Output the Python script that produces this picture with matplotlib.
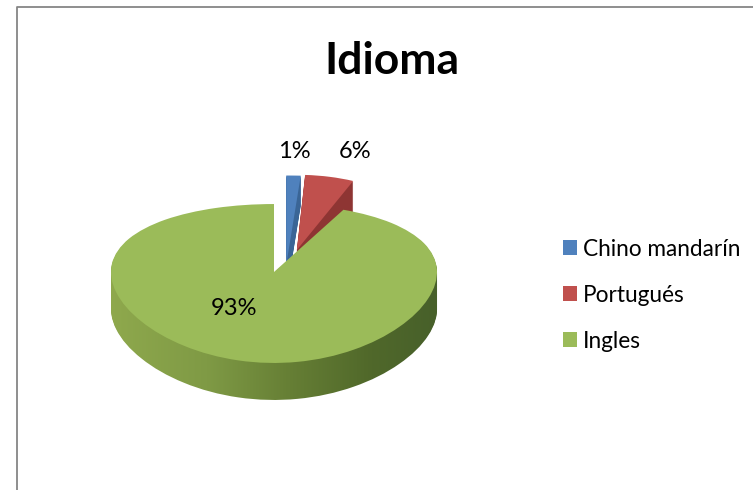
import matplotlib
matplotlib.use('Agg')
import matplotlib.pyplot as plt
import numpy as np
from matplotlib.colors import LinearSegmentedColormap
from matplotlib.lines import Line2D
from matplotlib.transforms import Affine2D, IdentityTransform

names = ['Chino mandarín', 'Portugués', 'Ingles']
values = [1, 6, 93]
top_colors = ['#4f81bd', '#c0504d', '#9bbb59']
side_colors = ['#3a6596', '#8e3533', 'none']

W, H = 753, 490
plt.rcParams['font.family'] = ['Lato', 'DejaVu Sans']

# pie geometry in pixels
apex_x, apex_y = 274, 272
rx = 163
ry = 77.8
b = 0.1447
depth_green = 37
depth_red = 30

# y perspective, the far half of the pie is shorter than the near half
def forward(y):
    y = np.asarray(y, dtype=float)
    return y / (1 + b * y)

def inverse(v):
    v = np.asarray(v, dtype=float)
    return v / (1 - b * v)

# slice offsets: center x, center y, radius, x squash
placing = [(0.075, 0.0912, 1.42, 1.0),
           (0.14, 0.295, 1.23, 0.66),
           (0.0, 0.0, 1.0, 1.0)]

fig = plt.figure(figsize=(W / 100, H / 100), dpi=100, facecolor='white')

bg = fig.add_axes([0, 0, 1, 1], zorder=1)
bg.set_xlim(0, W)
bg.set_ylim(H, 0)
bg.axis('off')

ax = fig.add_axes([0, 0, 1, 1], zorder=2)
ax.patch.set_alpha(0)


def place(wedges, down):
    for w, (cx, cy, r, sq) in zip(wedges, placing):
        w.set_center((cx / sq, cy))
        w.set_radius(r)
        w.set_transform(Affine2D().scale(sq, 1) + ax.transData
                        + Affine2D().translate(0, -down))


for d in range(depth_red, 0, -1):
    side, _ = ax.pie(values, colors=side_colors, startangle=90, counterclock=False)
    place(side, d)

top, _, pct = ax.pie(values, colors=top_colors, startangle=90, counterclock=False,
                     autopct='%.0f%%', textprops={'fontsize': 17, 'color': 'black'})
place(top, 0)

ax.set_aspect('auto')
ax.set_yscale('function', functions=(forward, inverse))
ax.set_xlim(-apex_x / rx, (W - apex_x) / rx)
ax.set_ylim(inverse(-(H - apex_y) / ry), inverse(apex_y / ry))
ax.axis('off')

# green side wall, shaded left to right
shade = LinearSegmentedColormap.from_list('side', [(0.0, '#8fa94d'), (0.3, '#7f9a45'),
                                                   (0.55, '#667f35'), (0.8, '#50682a'),
                                                   (1.0, '#47602a')])
gradient = np.linspace(0, 1, 256).reshape(1, -1)
green = top[2]
for d in range(1, depth_green + 1):
    im = bg.imshow(gradient, cmap=shade, extent=(108, 438, H, 0), aspect='auto')
    im.set_clip_path(green.get_path(), green.get_transform() + Affine2D().translate(0, -d))
bg.set_xlim(0, W)
bg.set_ylim(H, 0)

for t, (x, y) in zip(pct, [(294, 151), (355, 151), (234, 308)]):
    t.set_transform(IdentityTransform())
    t.set_position((x, H - y))
    t.set_ha('center')
    t.set_va('center')

fig.text(392 / W, 1 - 61 / H, 'Idioma', fontsize=32, fontweight='bold', ha='center', va='center')

fig.legend(top, names, loc='upper left', bbox_to_anchor=(556 / W, 1 - 232 / H),
           frameon=False, fontsize=16.3, handlelength=0.62, handleheight=0.62,
           handletextpad=0.27, labelspacing=1.1, borderpad=0.3, borderaxespad=0)

fig.add_artist(Line2D([17 / W, 17 / W, 1], [0, 1 - 7 / H, 1 - 7 / H], color='#868686', lw=1.3))

fig.savefig('out.png', dpi=100)
